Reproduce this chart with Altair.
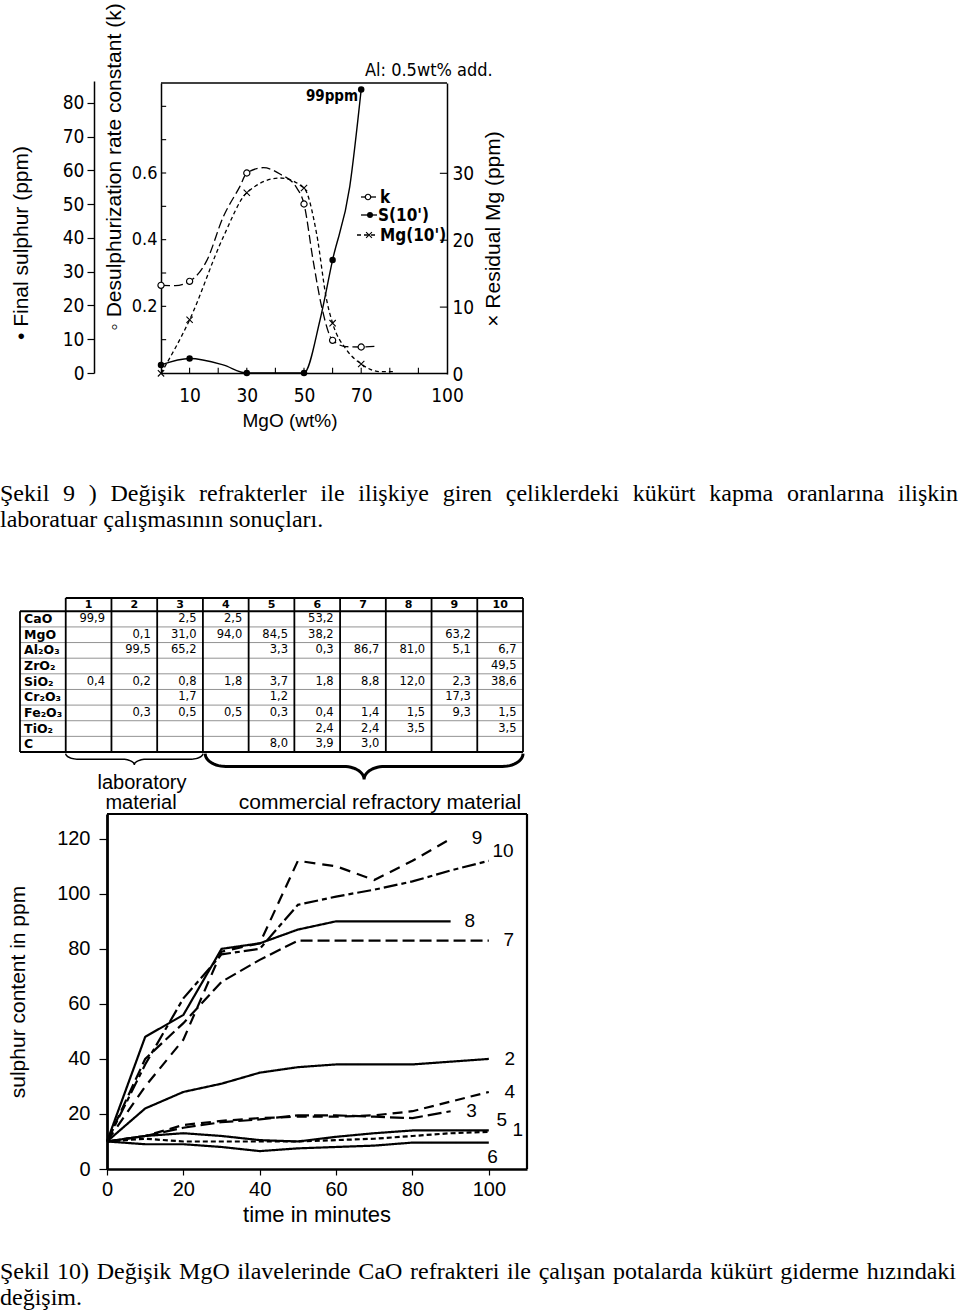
import altair as alt
import pandas as pd
import numpy as np

W, H = 960, 1313
SANS = "'Liberation Sans', Arial, Helvetica, sans-serif"
NARROW = "'Liberation Sans Narrow', 'DejaVu Sans Condensed', 'Liberation Sans', sans-serif"
SERIF = "'Liberation Serif', 'Times New Roman', serif"
TABF = "'DejaVu Sans', sans-serif"

# ---------------- Figure 9 data ----------------
mgo_marks = [0, 10, 30, 50, 60, 70]
k_marks = [0.263, 0.275, 0.60, 0.507, 0.098, 0.078]
s_marks = [2.4, 4.3, 0, 0, 33.5, 84]          # last point is 99 ppm, drawn at top
mg_marks = [0.1, 8.1, 27.1, 27.8, 7.6, 1.5]

k_curve_x = [0, 5, 10, 16, 21.7, 27.6, 30, 35.8, 41.6, 47.4, 50, 53.2, 56.2, 60, 64.9, 70, 75.9]
k_curve_y = [0.263, 0.262, 0.275, 0.337, 0.467, 0.56, 0.60, 0.616, 0.597, 0.556, 0.507, 0.337, 0.198, 0.098, 0.079, 0.078, 0.081]
mg_curve_x = [0, 10, 21.8, 30, 41.6, 50, 54.4, 57.9, 60, 64.9, 70, 76.6, 81.2]
mg_curve_y = [0.1, 8.1, 20.5, 27.1, 29.3, 27.8, 21.0, 11.1, 7.6, 3.6, 1.5, 0.35, 0.35]
s_curve_x = [0, 10, 21.7, 30, 40, 50, 55.6, 60, 66, 70]
s_curve_y = [2.4, 4.3, 2.4, 0, 0, 0, 15.7, 33.5, 55.2, 84]

# ---------------- Figure 10 data ----------------
times = [0, 10, 20, 30, 40, 50, 60, 70, 80, 90, 100]
series = {
    "1": [10, 12, 13, 12, 10.5, 10, 11.7, 13, 14, 14, 14],
    "2": [10, 22, 28, 31, 35, 37, 38, 38, 38, 39, 40],
    "3": [10, 12, 15, 17, 18, 19.5, 19.5, 19, 18.5, 21],
    "4": [10, 12, 16, 17.5, 18.5, 19, 19, 19.5, 21, 24.5, 28],
    "5": [10, 11, 10, 10, 10, 10, 10.5, 11, 12, 13, 13.5],
    "6": [10, 9, 9, 8, 6.5, 7.5, 8, 8.5, 9.6, 9.6, 9.6],
    "7": [10, 40, 53, 68, 76, 83, 83, 83, 83, 83, 83],
    "8": [10, 48, 56, 80, 82, 87, 90, 90, 90, 90],
    "9": [10, 30, 47, 79, 82, 112, 110, 105, 112, 120],
    "10": [10, 38, 62, 78, 80, 96, 99, 101.5, 104.5, 108.5, 112],
}
label_names = ["9", "10", "8", "7", "2", "4", "3", "5", "1", "6"]
label_t = [96.9, 103.7, 95.0, 105.2, 105.5, 105.5, 95.5, 103.4, 107.6, 101.0]
label_s = [120.4, 115.6, 90.2, 83.3, 40.0, 28.0, 21.0, 17.8, 14.2, 4.4]

# ---------------- Table data ----------------
oxides = ["CaO", "MgO", "Al₂O₃", "ZrO₂", "SiO₂", "Cr₂O₃", "Fe₂O₃", "TiO₂", "C"]
table_cols = ["1", "2", "3", "4", "5", "6", "7", "8", "9", "10"]
CaO = ["99,9", "", "2,5", "2,5", "", "53,2", "", "", "", ""]
MgO = ["", "0,1", "31,0", "94,0", "84,5", "38,2", "", "", "63,2", ""]
Al2O3 = ["", "99,5", "65,2", "", "3,3", "0,3", "86,7", "81,0", "5,1", "6,7"]
ZrO2 = ["", "", "", "", "", "", "", "", "", "49,5"]
SiO2 = ["0,4", "0,2", "0,8", "1,8", "3,7", "1,8", "8,8", "12,0", "2,3", "38,6"]
Cr2O3 = ["", "", "1,7", "", "1,2", "", "", "", "17,3", ""]
Fe2O3 = ["", "0,3", "0,5", "0,5", "0,3", "0,4", "1,4", "1,5", "9,3", "1,5"]
TiO2 = ["", "", "", "", "", "2,4", "2,4", "3,5", "", "3,5"]
C = ["", "", "", "", "8,0", "3,9", "3,0", "", "", ""]
table_rows = [CaO, MgO, Al2O3, ZrO2, SiO2, Cr2O3, Fe2O3, TiO2, C]

caption9 = ["Şekil 9 ) Değişik refrakterler ile ilişkiye giren çeliklerdeki kükürt kapma oranlarına ilişkin",
            "laboratuar çalışmasının sonuçları."]
caption10 = ["Şekil 10) Değişik MgO ilavelerinde CaO refrakteri ile çalışan potalarda kükürt giderme hızındaki",
             "değişim."]

one = pd.DataFrame({"_": [0]})

# Times-compatible advance widths (1/1000 em) used to justify caption lines
TW = {' ': 250, ')': 333, '(': 333, '.': 250, '0': 500, '1': 500, '9': 500,
      'A': 722, 'C': 667, 'D': 722, 'M': 889, 'O': 722, 'S': 556, 'Ş': 556,
      'a': 444, 'b': 500, 'c': 444, 'd': 500, 'e': 444, 'f': 333, 'g': 500, 'h': 500,
      'i': 278, 'ı': 278, 'k': 500, 'l': 278, 'm': 778, 'n': 500, 'o': 500, 'p': 500,
      'r': 333, 's': 389, 't': 278, 'u': 500, 'v': 500, 'y': 500, 'z': 444, 'ç': 444,
      'ğ': 500, 'ş': 389, 'ü': 500}


def txt(s, x, y, size, font=SANS, align="center", baseline="middle", angle=None, weight="normal"):
    kw = dict(text=s, fontSize=size, font=font, align=align, baseline=baseline,
              fontWeight=weight, color="black")
    if angle is not None:
        kw["angle"] = angle
    return alt.Chart(one).mark_text(**kw).encode(x=alt.value(x), y=alt.value(y))


def justified(line, y, size, x0=0.0, x1=958.0):
    words = line.split(" ")
    widths = [sum(TW.get(ch, 500) for ch in w) * size / 1000.0 for w in words]
    gap = (x1 - x0 - sum(widths)) / (len(words) - 1)
    xs, x = [], x0
    for w in widths:
        xs.append(x)
        x += w + gap
    df = pd.DataFrame({"w": words, "px": xs})
    return alt.Chart(df).mark_text(font=SERIF, fontSize=size, align="left", baseline="middle",
                                   color="black").encode(
        x=alt.X("px:Q", scale=alt.Scale(domain=[0, W], range=[0, W], nice=False, zero=False), axis=None),
        y=alt.value(y), text="w:N")


def ax(orient, offset, values, size, font, labelExpr=None, tickSize=0, padding=4,
       domainWidth=1.5, tickWidth=1.2):
    kw = dict(orient=orient, offset=offset, values=values, labelFontSize=size, labelFont=font,
              labelColor="black", domainColor="black", tickColor="black",
              labelPadding=padding, domainWidth=domainWidth, tickWidth=tickWidth,
              grid=False, title=None, labelFlush=False, labelOverlap=False)
    if labelExpr:
        kw["labelExpr"] = labelExpr
    if tickSize > 0:
        kw["tickSize"] = tickSize
        kw["ticks"] = True
    else:
        kw["ticks"] = False
    return alt.Axis(**kw)


layers = []

# ===================== Figure 9 =====================
XT = alt.Scale(domain=[0, 100], range=[161, 447], nice=False, zero=False)
YK = alt.Scale(domain=[0, 0.87], range=[373, 83], nice=False, zero=False)
YS = alt.Scale(domain=[0, 86.5], range=[373, 81], nice=False, zero=False)
YM = alt.Scale(domain=[0, 43.5], range=[374, 83], nice=False, zero=False)

k_df = pd.DataFrame({"mgo": k_curve_x, "k": k_curve_y})
layers.append(
    alt.Chart(k_df).mark_line(color="black", strokeWidth=1.3, strokeDash=[9, 4], interpolate="monotone").encode(
        x=alt.X("mgo:Q", scale=XT, axis=ax("bottom", 373 - H, list(range(10, 101, 10)), 19, NARROW,
                                            labelExpr="indexof([10,30,50,70,100], datum.value) >= 0 ? datum.label : ''",
                                            padding=13)),
        y=alt.Y("k:Q", scale=YK, axis=ax("left", -161, [0.2, 0.4, 0.6], 18, NARROW, padding=4,
                                        labelExpr="format(datum.value, '.1f')")),
    )
)
mg_df = pd.DataFrame({"mgo": mg_curve_x, "mg": mg_curve_y})
layers.append(
    alt.Chart(mg_df).mark_line(color="black", strokeWidth=1.3, strokeDash=[4, 3], interpolate="monotone").encode(
        x=alt.X("mgo:Q", scale=XT, axis=None),
        y=alt.Y("mg:Q", scale=YM, axis=ax("right", 447 - W, [0, 10, 20, 30], 19, NARROW, padding=5)),
    )
)
s_df = pd.DataFrame({"mgo": s_curve_x, "s": s_curve_y})
layers.append(
    alt.Chart(s_df).mark_line(color="black", strokeWidth=1.4, interpolate="monotone").encode(
        x=alt.X("mgo:Q", scale=XT, axis=None),
        y=alt.Y("s:Q", scale=YS, axis=ax("left", -94, list(range(0, 81, 10)), 19, NARROW,
                                        tickSize=7, padding=3)),
    )
)
pts = pd.DataFrame({"mgo": mgo_marks, "k": k_marks, "s": s_marks, "mg": mg_marks})
layers.append(
    alt.Chart(pts).mark_circle(color="white", stroke="black", strokeWidth=1.2, opacity=1, size=38).encode(
        x=alt.X("mgo:Q", scale=XT, axis=None), y=alt.Y("k:Q", scale=YK, axis=None)))
layers.append(
    alt.Chart(pts).mark_circle(color="black", opacity=1, size=42).encode(
        x=alt.X("mgo:Q", scale=XT, axis=None), y=alt.Y("s:Q", scale=YS, axis=None)))
XSHAPE = "M -1 -1 L 1 1 M -1 1 L 1 -1"
layers.append(
    alt.Chart(pts).mark_point(shape=XSHAPE, filled=False, color="black", strokeWidth=1.1, size=40, opacity=1).encode(
        x=alt.X("mgo:Q", scale=XT, axis=None), y=alt.Y("mg:Q", scale=YM, axis=None)))

# frame top line and inward ticks
frame_top = pd.DataFrame({"x0": [0], "x1": [100], "y": [0.87]})
layers.append(alt.Chart(frame_top).mark_rule(color="black", strokeWidth=1.5).encode(
    x=alt.X("x0:Q", scale=XT, axis=None), x2="x1:Q", y=alt.Y("y:Q", scale=YK, axis=None)))
xt_ticks = pd.DataFrame({"x": list(range(10, 100, 10)), "y0": 0.0, "y1": 0.016})
layers.append(alt.Chart(xt_ticks).mark_rule(color="black", strokeWidth=1.1).encode(
    x=alt.X("x:Q", scale=XT, axis=None), y=alt.Y("y0:Q", scale=YK, axis=None), y2="y1:Q"))
kt_ticks = pd.DataFrame({"y": [0.1, 0.2, 0.3, 0.4, 0.5, 0.6, 0.7, 0.8], "x0": 0.0, "x1": 1.8})
layers.append(alt.Chart(kt_ticks).mark_rule(color="black", strokeWidth=1.1).encode(
    y=alt.Y("y:Q", scale=YK, axis=None), x=alt.X("x0:Q", scale=XT, axis=None), x2="x1:Q"))
mt_ticks = pd.DataFrame({"y": [10, 20, 30], "x0": 97.5, "x1": 100.0})
layers.append(alt.Chart(mt_ticks).mark_rule(color="black", strokeWidth=1.1).encode(
    y=alt.Y("y:Q", scale=YM, axis=None), x=alt.X("x0:Q", scale=XT, axis=None), x2="x1:Q"))

# legend (hand drawn style)
layers.append(alt.Chart(one).mark_rule(color="black", strokeWidth=1.3).encode(
    x=alt.value(361), x2=alt.value(376), y=alt.value(197)))
layers.append(alt.Chart(one).mark_circle(color="white", stroke="black", strokeWidth=1.2, opacity=1, size=30).encode(
    x=alt.value(368), y=alt.value(197)))
layers.append(alt.Chart(one).mark_rule(color="black", strokeWidth=1.3).encode(
    x=alt.value(361), x2=alt.value(377), y=alt.value(215)))
layers.append(alt.Chart(one).mark_circle(color="black", opacity=1, size=36).encode(
    x=alt.value(370), y=alt.value(215)))
layers.append(alt.Chart(one).mark_rule(color="black", strokeWidth=1.3, strokeDash=[4, 3]).encode(
    x=alt.value(357), x2=alt.value(378), y=alt.value(235)))
layers.append(alt.Chart(one).mark_point(shape=XSHAPE, filled=False, color="black", strokeWidth=1.1, size=34, opacity=1).encode(
    x=alt.value(369), y=alt.value(235)))
layers.append(txt("k", 380, 198, 17, NARROW, align="left", weight="bold"))
layers.append(txt("S(10')", 378, 216, 17, NARROW, align="left", weight="bold"))
layers.append(txt("Mg(10')", 380, 236, 17, NARROW, align="left", weight="bold"))

layers.append(txt("Al: 0.5wt% add.", 365, 71, 18, NARROW, align="left"))
layers.append(txt("99ppm", 332, 96, 15, NARROW, weight="bold"))
layers.append(txt("MgO (wt%)", 290, 421, 19, SANS))
layers.append(txt("• Final sulphur (ppm)", 22, 243, 21, SANS, angle=270))
layers.append(txt("◦ Desulphurization rate constant (k)", 115, 167, 21, SANS, angle=270))
layers.append(txt("× Residual Mg (ppm)", 494, 229, 21, SANS, angle=270))

# captions (first lines justified across the page)
layers.append(justified(caption9[0], 494, 24))
layers.append(txt(caption9[1], 0, 520, 24, SERIF, align="left"))
layers.append(justified(caption10[0], 1272, 24, 0.0, 956.0))
layers.append(txt(caption10[1], 0, 1298, 24, SERIF, align="left"))

# ===================== Table =====================
TX = alt.Scale(domain=[0, 11], range=[20, 523], nice=False, zero=False)
TY = alt.Scale(domain=[0.15, 10], range=[598, 752], nice=False, zero=False)

hl = pd.DataFrame({
    "y": [0.15] + list(range(1, 11)),
    "x0": [1.0] + [0.0] * 10,
    "x1": [11.0] * 11,
    "w": ["thick", "thick"] + ["thin"] * 8 + ["thick"],
})
layers.append(alt.Chart(hl).mark_rule(color="black").encode(
    y=alt.Y("y:Q", scale=TY, axis=None), x=alt.X("x0:Q", scale=TX, axis=None), x2="x1:Q",
    strokeWidth=alt.StrokeWidth("w:N", scale=alt.Scale(domain=["thick", "thin"], range=[2.0, 0.8]), legend=None),
    color=alt.Color("w:N", scale=alt.Scale(domain=["thick", "thin"], range=["black", "#777777"]), legend=None)))
vl = pd.DataFrame({
    "x": list(range(0, 12)),
    "y0": [1.0] + [0.15] * 11,
    "y1": [10.0] * 12,
})
layers.append(alt.Chart(vl).mark_rule(color="black", strokeWidth=1.8).encode(
    x=alt.X("x:Q", scale=TX, axis=None), y=alt.Y("y0:Q", scale=TY, axis=None), y2="y1:Q"))

hdr = pd.DataFrame({"x": [i + 1.5 for i in range(10)], "y": 0.6, "t": table_cols})
layers.append(alt.Chart(hdr).mark_text(font=TABF, fontSize=11, fontWeight="bold", color="black").encode(
    x=alt.X("x:Q", scale=TX, axis=None), y=alt.Y("y:Q", scale=TY, axis=None), text="t:N"))
rl = pd.DataFrame({"x": 0.09, "y": [r + 1.5 for r in range(9)], "t": oxides})
layers.append(alt.Chart(rl).mark_text(font=TABF, fontSize=12.5, fontWeight="bold", color="black", align="left").encode(
    x=alt.X("x:Q", scale=TX, axis=None), y=alt.Y("y:Q", scale=TY, axis=None), text="t:N"))
cells = []
for r, row in enumerate(table_rows):
    for c, v in enumerate(row):
        if v:
            cells.append({"x": c + 2 - 0.14, "y": r + 1.5, "t": v})
cells = pd.DataFrame(cells)
layers.append(alt.Chart(cells).mark_text(font=TABF, fontSize=11.5, color="black", align="right").encode(
    x=alt.X("x:Q", scale=TX, axis=None), y=alt.Y("y:Q", scale=TY, axis=None), text="t:N"))


def brace(a, b, y0, depth, r, n=14):
    m = (a + b) / 2
    h = depth / 2
    xs, ys = [], []
    for t in np.linspace(0, np.pi / 2, n):
        xs.append(a + r - r * np.cos(t)); ys.append(y0 + h * np.sin(t))
    for t in np.linspace(0, np.pi / 2, n):
        xs.append(m - r + r * np.sin(t)); ys.append(y0 + 2 * h - h * np.cos(t))
    for t in np.linspace(np.pi / 2, 0, n):
        xs.append(m + r - r * np.sin(t)); ys.append(y0 + 2 * h - h * np.cos(t))
    for t in np.linspace(np.pi / 2, 0, n):
        xs.append(b - r + r * np.cos(t)); ys.append(y0 + h * np.sin(t))
    return pd.DataFrame({"x": xs, "y": ys, "o": range(len(xs))})


for (a, b, d, r, sw) in [(1.0, 4.0, 0.72, 0.28, 1.5), (4.05, 11.0, 1.65, 0.45, 3.0)]:
    layers.append(alt.Chart(brace(a, b, 10.1, d, r)).mark_line(color="black", strokeWidth=sw).encode(
        x=alt.X("x:Q", scale=TX, axis=None), y=alt.Y("y:Q", scale=TY, axis=None), order="o:Q"))

layers.append(txt("laboratory", 142, 783, 20, SANS))
layers.append(txt("material", 141, 803, 20, SANS))
layers.append(txt("commercial refractory material", 380, 803, 21, SANS))

# ===================== Figure 10 =====================
XB = alt.Scale(domain=[0, 110], range=[107, 527], nice=False, zero=False)
YB = alt.Scale(domain=[0, 129], range=[1169, 814], nice=False, zero=False)
rows = []
for name, vals in series.items():
    for t, v in zip(times, vals):
        rows.append({"t": t, "s": v, "series": name})
bdf = pd.DataFrame(rows)
dash_dom = ["1", "2", "3", "4", "5", "6", "7", "8", "9", "10"]
dash_rng = [[1, 0], [1, 0], [14, 5], [10, 6], [5, 3], [1, 0], [12, 5], [1, 0], [11, 7], [14, 4, 5, 4]]
layers.append(alt.Chart(bdf).mark_line(color="black", strokeWidth=2.2).encode(
    x=alt.X("t:Q", scale=XB, axis=ax("bottom", 1169 - H, [0, 20, 40, 60, 80, 100], 20, SANS,
                                      tickSize=6, padding=4, domainWidth=2.5)),
    y=alt.Y("s:Q", scale=YB, axis=ax("left", -107, [0, 20, 40, 60, 80, 100, 120], 20, SANS,
                                      tickSize=8, padding=9, domainWidth=2.8)),
    strokeDash=alt.StrokeDash("series:N", scale=alt.Scale(domain=dash_dom, range=dash_rng), legend=None),
    detail="series:N"))
bframe_h = pd.DataFrame({"x0": [0], "x1": [110], "y": [129]})
layers.append(alt.Chart(bframe_h).mark_rule(color="black", strokeWidth=2.2).encode(
    x=alt.X("x0:Q", scale=XB, axis=None), x2="x1:Q", y=alt.Y("y:Q", scale=YB, axis=None)))
bframe_v = pd.DataFrame({"x": [110], "y0": [0], "y1": [129]})
layers.append(alt.Chart(bframe_v).mark_rule(color="black", strokeWidth=2.2).encode(
    x=alt.X("x:Q", scale=XB, axis=None), y=alt.Y("y0:Q", scale=YB, axis=None), y2="y1:Q"))
lab = pd.DataFrame({"t": label_t, "s": label_s, "n": label_names})
layers.append(alt.Chart(lab).mark_text(font=SANS, fontSize=19, color="black").encode(
    x=alt.X("t:Q", scale=XB, axis=None), y=alt.Y("s:Q", scale=YB, axis=None), text="n:N"))
layers.append(txt("sulphur content in ppm", 19, 992, 21, SANS, angle=270))
layers.append(txt("time in minutes", 317, 1215, 22, SANS))

chart = alt.layer(*layers).resolve_scale(x="independent", y="independent").properties(
    width=W, height=H, autosize=alt.AutoSizeParams(type="none"), padding=0, background="white"
).configure_view(stroke=None)

chart.save("out.html", embed_options={"renderer": "svg", "actions": False})
